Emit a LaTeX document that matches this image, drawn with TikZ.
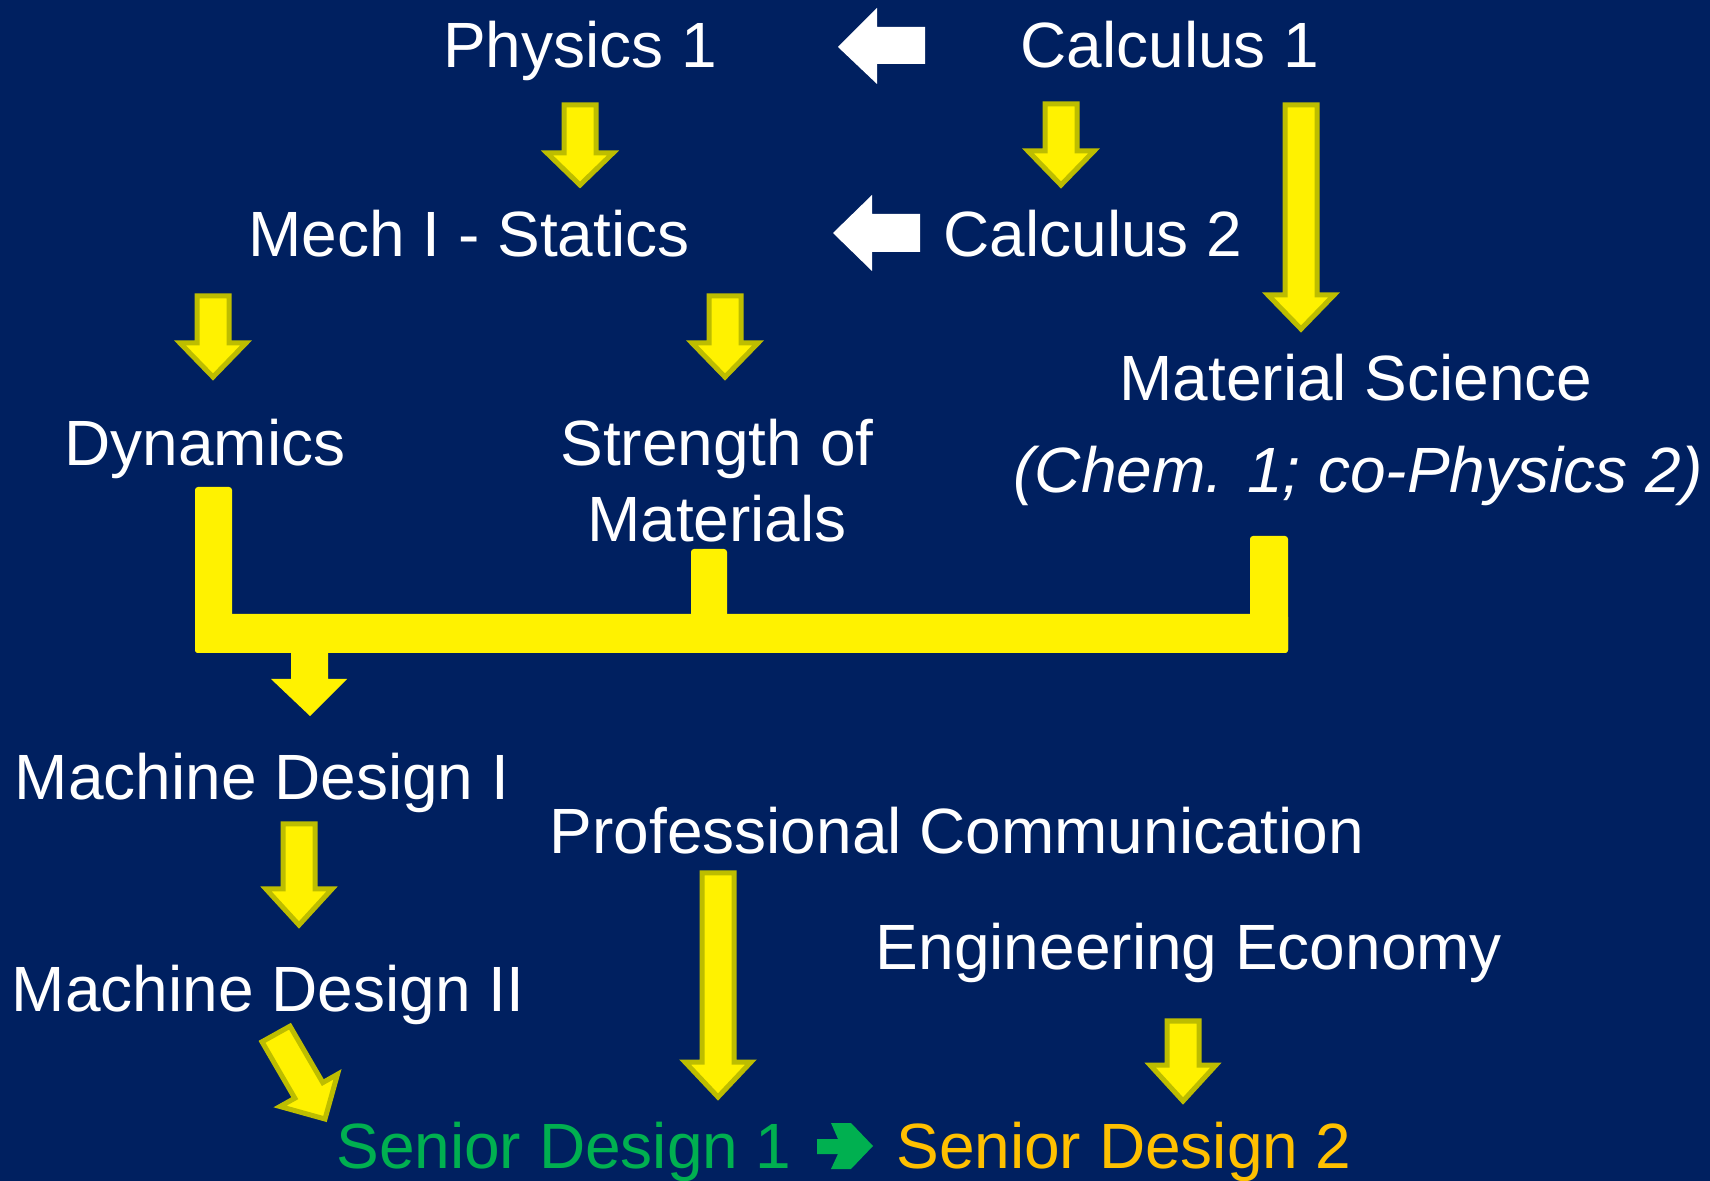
\documentclass[tikz,border=0pt]{standalone}
\usepackage{fontspec}
\setmainfont{Liberation Sans}
\definecolor{bg}{HTML}{002060}
\definecolor{yedge}{HTML}{BDBD00}
\definecolor{sdgreen}{HTML}{00B050}
\definecolor{sdorange}{HTML}{FFC000}
\newcommand{\dnarrow}[4]{%
  \draw[yarr] ({#1-16},#2) -- ({#1+16},#2) -- ({#1+16},#3) -- ({#1+33},#3) -- (#1,#4) -- ({#1-33},#3) -- ({#1-16},#3) -- cycle;}
\begin{document}
\begin{tikzpicture}[x=0.5pt,y=-0.5pt,
  lbl/.style={text=white,inner sep=0pt,anchor=base,font=\fontsize{32}{38}\selectfont},
  yarr/.style={fill=yellow,draw=yedge,line width=2.5pt,line join=miter},
  warr/.style={fill=white},
  bar/.style={fill=yellow}]
\fill[bg] (0,0) rectangle (1710,1181);
\useasboundingbox (0,0) rectangle (1710,1181);
% labels
\node[lbl] (phys) at (580,68) {Physics 1};
\node[lbl] (calc1) at (1170,68) {Calculus 1};
\node[lbl] (mech) at (469,257) {Mech I - Statics};
\node[lbl] (calc2) at (1093,257) {Calculus 2};
\node[lbl] (dyn) at (205,466) {Dynamics};
\node[lbl] (str1) at (717,466) {Strength of};
\node[lbl] (str2) at (717,542) {Materials};
\node[lbl] (matsci) at (1356,401) {Material Science};
\node[lbl] (chem) at (1358,493) {\itshape (Chem. 1; co-Physics 2)};
\node[lbl] (md1) at (262,800) {Machine Design I};
\node[lbl] (md2) at (268,1011) {Machine Design II};
\node[lbl] (prof) at (957,854) {Professional Communication};
\node[lbl] (eng) at (1189,970) {Engineering Economy};
\node[lbl,text=sdgreen] (sd1) at (564,1168) {Senior Design 1};
\node[lbl,text=sdorange] (sd2) at (1124,1168) {Senior Design 2};
% white arrows
\fill[warr] (838,47) -- (877,8) -- (877,27) -- (925,27) -- (925,64) -- (877,64) -- (877,84) -- cycle;
\fill[warr] (833,233) -- (872,195) -- (872,214) -- (920,214) -- (920,252) -- (872,252) -- (872,271) -- cycle;
% yellow block arrows
\dnarrow{580}{105}{153}{185}
\dnarrow{1061}{104}{151}{185}
\dnarrow{1301}{105}{295}{329}
\dnarrow{213}{296}{343}{377}
\dnarrow{725}{296}{343}{377}
\dnarrow{299}{824}{889}{925}
\dnarrow{718}{873}{1062}{1097}
\dnarrow{1183}{1021}{1065}{1101}
\draw[yarr] (290,1026.2) -- (322.8,1082.6) -- (337.5,1074.3) -- (325,1119) -- (280,1106.5) -- (294.8,1098.2) -- (262,1041.8) -- cycle;
% bracket
\fill[bar,rounded corners=1.5] (195,487) rectangle (232,653);
\fill[bar,rounded corners=1.5] (691,549) rectangle (727,653);
\fill[bar,rounded corners=1.5] (1250,536) rectangle (1288,653);
\fill[bar,rounded corners=1.5] (195,614) rectangle (1288,653);
\fill[bar] (291,650) -- (328,650) -- (328,679) -- (347,679) -- (310,716) -- (271,679) -- (291,679) -- cycle;
% green arrow between senior designs
\fill[sdgreen] (817,1139) -- (838,1139) -- (831,1123) -- (851,1123) -- (873,1146) -- (851,1169) -- (831,1169) -- (838,1154) -- (817,1154) -- cycle;
\end{tikzpicture}
\end{document}
